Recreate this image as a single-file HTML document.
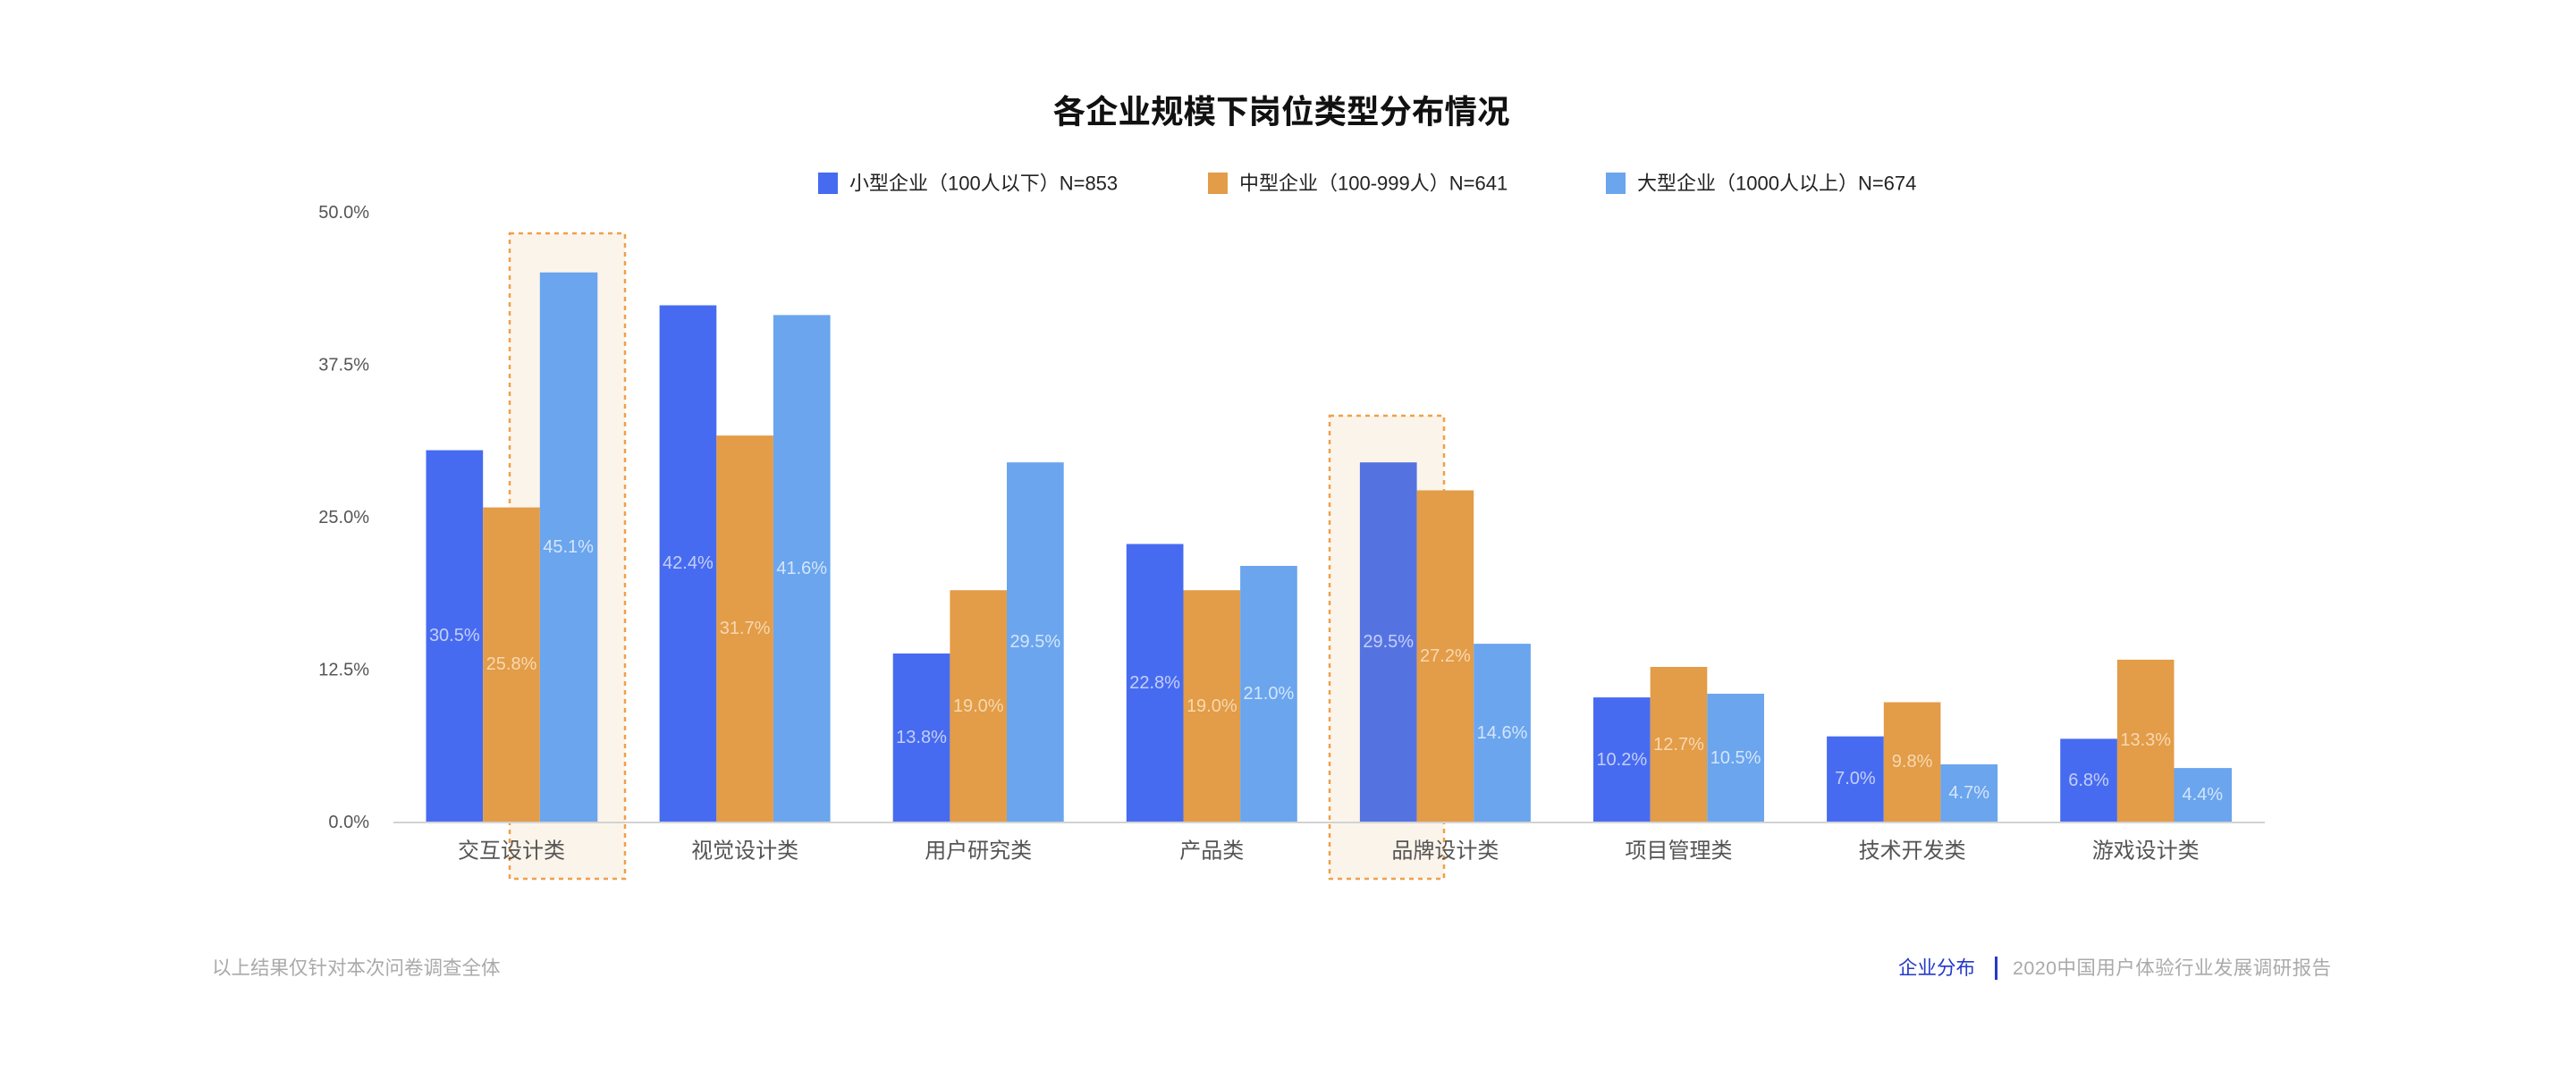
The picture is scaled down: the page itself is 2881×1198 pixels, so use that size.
<!DOCTYPE html>
<html><head><meta charset="utf-8">
<style>
html,body{margin:0;padding:0;background:#fff;}
svg{display:block;}
text{font-family:"Liberation Sans","Noto Sans CJK SC",sans-serif;}
</style></head>
<body>
<svg width="2881" height="1198" viewBox="0 0 2881 1198" xmlns="http://www.w3.org/2000/svg">
<rect width="2881" height="1198" fill="#fff"/>
<text x="1433" y="125" font-size="36.5" font-weight="bold" text-anchor="middle" dominant-baseline="central" fill="#111">各企业规模下岗位类型分布情况</text>

<!-- legend -->
<rect x="915" y="193" width="22" height="24" fill="#476BF0"/>
<text x="950" y="205" font-size="22" dominant-baseline="central" fill="#222">小型企业（100人以下）N=853</text>
<rect x="1351" y="193" width="22" height="24" fill="#E39C47"/>
<text x="1386" y="205" font-size="22" dominant-baseline="central" fill="#222">中型企业（100-999人）N=641</text>
<rect x="1796" y="193" width="22" height="24" fill="#6AA5EE"/>
<text x="1831" y="205" font-size="22" dominant-baseline="central" fill="#222">大型企业（1000人以上）N=674</text>

<!-- y axis labels -->
<g font-size="20" fill="#555" text-anchor="end" dominant-baseline="central">
<text x="413" y="238">50.0%</text>
<text x="413" y="408.5">37.5%</text>
<text x="413" y="579">25.0%</text>
<text x="413" y="749.5">12.5%</text>
<text x="413" y="920">0.0%</text>
</g>

<!-- highlight boxes -->
<rect x="570" y="261" width="129" height="722" fill="#FBF4EA" stroke="#EFA04A" stroke-width="2.5" stroke-dasharray="5,5"/>
<rect x="1487" y="465" width="128" height="518" fill="#FBF4EA" stroke="#EFA04A" stroke-width="2.5" stroke-dasharray="5,5"/>

<!-- bars -->
<g>
<rect x="476.5" y="503.6" width="63.7" height="415.4" fill="#476BF0"/>
<rect x="540.2" y="567.6" width="63.6" height="351.4" fill="#E39C47"/>
<rect x="603.8" y="304.7" width="64.5" height="614.3" fill="#6AA5EE"/>

<rect x="737.6" y="341.5" width="63.7" height="577.5" fill="#476BF0"/>
<rect x="801.3" y="487.2" width="63.6" height="431.8" fill="#E39C47"/>
<rect x="864.9" y="352.4" width="63.7" height="566.6" fill="#6AA5EE"/>

<rect x="998.7" y="731" width="63.7" height="188" fill="#476BF0"/>
<rect x="1062.4" y="660.2" width="63.6" height="258.8" fill="#E39C47"/>
<rect x="1126" y="517.2" width="63.7" height="401.8" fill="#6AA5EE"/>

<rect x="1259.8" y="608.5" width="63.7" height="310.5" fill="#476BF0"/>
<rect x="1323.5" y="660.2" width="63.6" height="258.8" fill="#E39C47"/>
<rect x="1387.1" y="633" width="63.7" height="286" fill="#6AA5EE"/>

<rect x="1520.9" y="517.2" width="63.7" height="401.8" fill="#5573E0"/>
<rect x="1584.6" y="548.5" width="63.6" height="370.5" fill="#E39C47"/>
<rect x="1648.2" y="720.1" width="63.7" height="198.9" fill="#6AA5EE"/>

<rect x="1782" y="780.1" width="63.7" height="138.9" fill="#476BF0"/>
<rect x="1845.7" y="746" width="63.6" height="173" fill="#E39C47"/>
<rect x="1909.3" y="776" width="63.7" height="143" fill="#6AA5EE"/>

<rect x="2043.1" y="823.7" width="63.7" height="95.3" fill="#476BF0"/>
<rect x="2106.8" y="785.5" width="63.6" height="133.5" fill="#E39C47"/>
<rect x="2170.4" y="855" width="63.7" height="64" fill="#6AA5EE"/>

<rect x="2304.2" y="826.4" width="63.7" height="92.6" fill="#476BF0"/>
<rect x="2367.9" y="737.9" width="63.6" height="181.1" fill="#E39C47"/>
<rect x="2431.5" y="859.1" width="64.5" height="59.9" fill="#6AA5EE"/>
</g>

<!-- value labels -->
<g font-size="20" text-anchor="middle" dominant-baseline="central">
<g fill="#C3CFFA">
<text x="508.3" y="711">30.5%</text>
<text x="769.4" y="630">42.4%</text>
<text x="1030.5" y="825">13.8%</text>
<text x="1291.6" y="764">22.8%</text>
<text x="1552.7" y="718">29.5%</text>
<text x="1813.8" y="850">10.2%</text>
<text x="2074.9" y="871">7.0%</text>
<text x="2336" y="873">6.8%</text>
</g>
<g fill="#F6D9B2">
<text x="572" y="743">25.8%</text>
<text x="833.1" y="703">31.7%</text>
<text x="1094.2" y="790">19.0%</text>
<text x="1355.3" y="790">19.0%</text>
<text x="1616.4" y="734">27.2%</text>
<text x="1877.5" y="833">12.7%</text>
<text x="2138.6" y="852">9.8%</text>
<text x="2399.7" y="828">13.3%</text>
</g>
<g fill="#D4E5FB">
<text x="635.6" y="612">45.1%</text>
<text x="896.7" y="636">41.6%</text>
<text x="1157.8" y="718">29.5%</text>
<text x="1418.9" y="776">21.0%</text>
<text x="1680" y="820">14.6%</text>
<text x="1941.1" y="848">10.5%</text>
<text x="2202.2" y="887">4.7%</text>
<text x="2463.3" y="889">4.4%</text>
</g>
</g>

<!-- axis line -->
<line x1="440" y1="920" x2="2533" y2="920" stroke="#D2D2D2" stroke-width="2"/>

<!-- category labels -->
<g font-size="24" fill="#555" text-anchor="middle" dominant-baseline="central">
<text x="572" y="952">交互设计类</text>
<text x="833.1" y="952">视觉设计类</text>
<text x="1094.2" y="952">用户研究类</text>
<text x="1355.3" y="952">产品类</text>
<text x="1616.4" y="952">品牌设计类</text>
<text x="1877.5" y="952">项目管理类</text>
<text x="2138.6" y="952">技术开发类</text>
<text x="2399.7" y="952">游戏设计类</text>
</g>

<!-- footer -->
<text x="237" y="1083" font-size="21.5" fill="#AAAAAA" dominant-baseline="central">以上结果仅针对本次问卷调查全体</text>
<text x="2123" y="1083" font-size="21.5" fill="#2439C8" dominant-baseline="central">企业分布</text>
<rect x="2231" y="1070" width="3" height="26" fill="#2439C8"/>
<text x="2251" y="1083" font-size="21.5" fill="#AAAAAA" dominant-baseline="central" textLength="356">2020中国用户体验行业发展调研报告</text>
</svg>
</body></html>
